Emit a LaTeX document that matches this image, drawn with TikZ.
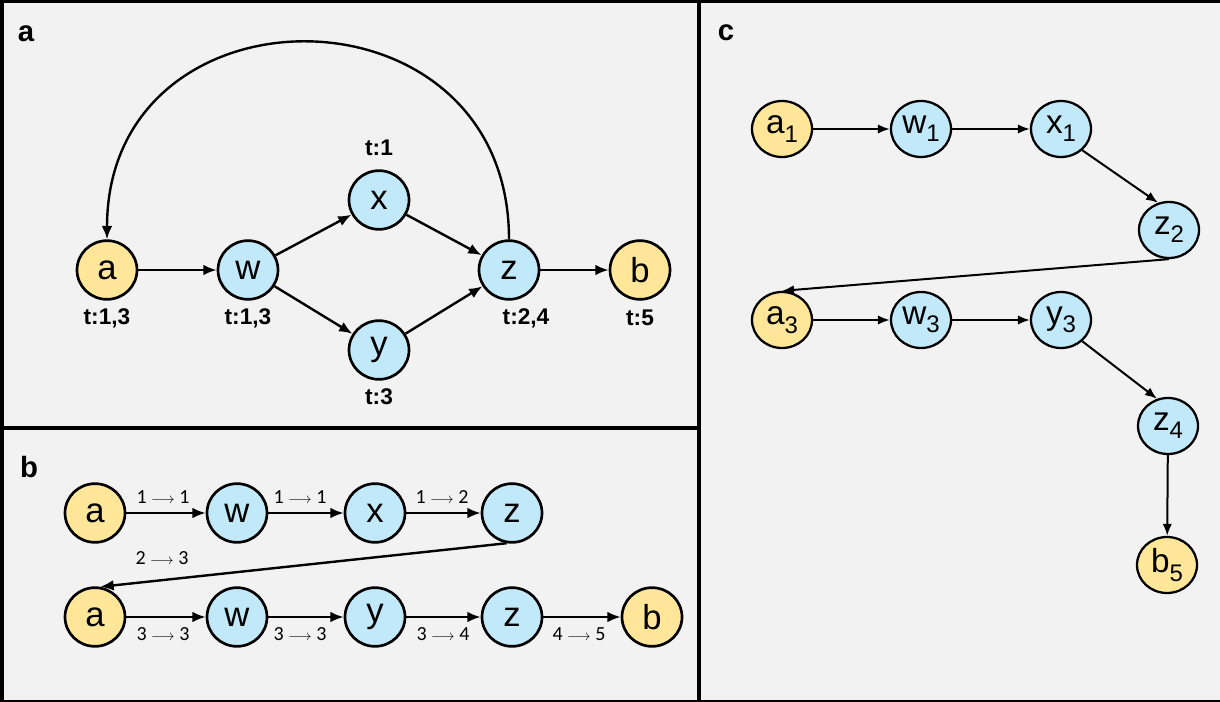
\documentclass[tikz,border=0pt]{standalone}
\usepackage{fontspec}
\setmainfont{Liberation Sans}
\newfontfamily\carl{Carlito}
\usetikzlibrary{arrows.meta,shapes.geometric}
\definecolor{bgc}{HTML}{F2F2F2}
\definecolor{nodey}{HTML}{FFE699}
\definecolor{nodeb}{HTML}{C1E9F9}
\newcommand{\lowsub}[1]{\raisebox{-0.25em}{\fontsize{18}{18}\selectfont #1}}
\newcommand{\arr}{{\fontsize{11}{11}\selectfont$\longrightarrow$}}
\begin{document}
\begin{tikzpicture}[x=0.75pt,y=-0.75pt,
  base/.style={draw=black, line width=2pt, ellipse, inner sep=0pt,
    minimum width=45pt, minimum height=44pt, font=\fontsize{26}{26}\selectfont},
  yel/.style={base, fill=nodey},
  blu/.style={base, fill=nodeb},
  cbase/.style={line width=1.7pt, minimum width=45pt, minimum height=42pt, font=\fontsize{25}{25}\selectfont},
  cyel/.style={yel, cbase},
  cblu/.style={blu, cbase},
  edge/.style={-{Latex[length=10pt,width=8pt]}, line width=1.8pt},
  cedge/.style={-{Latex[length=9pt,width=7pt]}, line width=1.5pt},
  tlab/.style={font=\bfseries\fontsize{17}{17}\selectfont, inner sep=0pt},
  plab/.style={font=\bfseries\fontsize{22}{22}\selectfont, inner sep=0pt},
  elab/.style={font=\carl\fontsize{15}{15}\selectfont, inner sep=0pt}
]
\fill[bgc] (0,0) rectangle (1220,702);
\useasboundingbox (0,0) rectangle (1220,702);
% frame
\draw[line width=3pt] (0,1.5) -- (1220,1.5);
\draw[line width=3pt] (1.5,0) -- (1.5,702);
\draw[line width=1.5pt] (0,701) -- (1220,701);
\draw[line width=3pt] (699,0) -- (699,702);
\draw[line width=3.5pt] (0,428) -- (699,428);

% ---------- panel a ----------
\node[plab] (la) at (26,34) {a};
\node[yel] (a)  at (107,270) {a};
\node[blu] (w)  at (248,270) {w};
\node[blu] (x)  at (379,200) {x};
\node[blu] (y)  at (379,350) {y};
\node[blu] (z)  at (509,270) {z};
\node[yel] (b)  at (640,270) {b};
\node[tlab] (ta) at (107,318) {t:1,3};
\node[tlab] (tw) at (248,318) {t:1,3};
\node[tlab] (tx) at (379,148) {t:1};
\node[tlab] (ty) at (379,397) {t:3};
\node[tlab] (tz) at (526,318) {t:2,4};
\node[tlab] (tb) at (640,318) {t:5};
\draw[edge] (a) -- (w);
\draw[edge] (w) -- (x);
\draw[edge] (w) -- (y);
\draw[edge] (x) -- (z);
\draw[edge] (y) -- (z);
\draw[edge] (z) -- (b);
\draw[edge] (z.north) .. controls +(0,-262) and +(0,-262) .. (a.north);

% ---------- panel b ----------
\node[plab] (lb) at (29,467) {b};
\node[yel] (ba1) at (95,513) {a};
\node[blu] (bw1) at (237,513) {w};
\node[blu] (bx1) at (375,513) {x};
\node[blu] (bz1) at (512,513) {z};
\node[yel] (ba2) at (95,617) {a};
\node[blu] (bw2) at (237,617) {w};
\node[blu] (by2) at (375,617) {y};
\node[blu] (bz2) at (512,617) {z};
\node[yel] (bb2) at (652,617) {b};
\draw[edge] (ba1) -- (bw1);
\draw[edge] (bw1) -- (bx1);
\draw[edge] (bx1) -- (bz1);
\draw[edge] (bz1.-100) -- (ba2.80);
\draw[edge] (ba2) -- (bw2);
\draw[edge] (bw2) -- (by2);
\draw[edge] (by2) -- (bz2);
\draw[edge] (bz2) -- (bb2);
\node[elab] (e1) at (163,497) {1 \arr{} 1};
\node[elab] (e2) at (300,497) {1 \arr{} 1};
\node[elab] (e3) at (442,497) {1 \arr{} 2};
\node[elab] (e4) at (162,558) {2 \arr{} 3};
\node[elab] (e5) at (163,634) {3 \arr{} 3};
\node[elab] (e6) at (300,634) {3 \arr{} 3};
\node[elab] (e7) at (443,634) {3 \arr{} 4};
\node[elab] (e8) at (579,634) {4 \arr{} 5};

% ---------- panel c ----------
\node[plab] (lc) at (726,33) {c};
\node[cyel] (ca1) at (782,129) {a\lowsub{1}};
\node[cblu] (cw1) at (921,129) {w\lowsub{1}};
\node[cblu] (cx1) at (1061,129) {x\lowsub{1}};
\node[cblu] (cz2) at (1169,230) {z\lowsub{2}};
\node[cyel] (ca3) at (782,320) {a\lowsub{3}};
\node[cblu] (cw3) at (921,320) {w\lowsub{3}};
\node[cblu] (cy3) at (1061,320) {y\lowsub{3}};
\node[cblu] (cz4) at (1168,426) {z\lowsub{4}};
\node[cyel] (cb5) at (1167,565) {b\lowsub{5}};
\draw[cedge] (ca1) -- (cw1);
\draw[cedge] (cw1) -- (cx1);
\draw[cedge] (cx1.-45) -- (cz2.112);
\draw[cedge] (cz2.south) -- (ca3.north);
\draw[cedge] (ca3) -- (cw3);
\draw[cedge] (cw3) -- (cy3);
\draw[cedge] (cy3.-45) -- (cz4.112);
\draw[cedge] (cz4) -- (cb5);
\end{tikzpicture}
\end{document}
